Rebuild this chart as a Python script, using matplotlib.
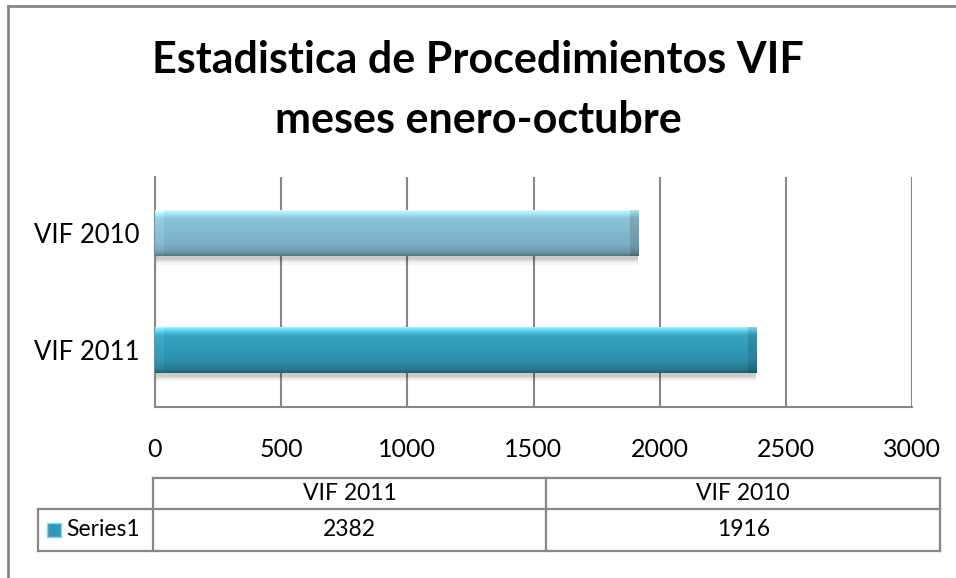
"""Estadistica de Procedimientos VIF - barras horizontales con tabla de datos."""
import numpy as np
import matplotlib.pyplot as plt
from matplotlib.colors import to_rgb
from matplotlib.patches import Rectangle

categories = ["VIF 2011", "VIF 2010"]
values = [2382, 1916]
series_name = "Series1"
x_ticks = [0, 500, 1000, 1500, 2000, 2500, 3000]
title_lines = ["Estadistica de Procedimientos VIF", "meses enero-octubre"]

GRAY = "#878787"
# perfiles de color (arriba -> abajo) para simular el bisel de Excel
bar_styles = [
    [(0.0, "#9af0ff"), (0.07, "#5fd0ea"), (0.18, "#36a5c2"), (0.75, "#2c8eaa"),
     (0.92, "#277a90"), (1.0, "#1e5f70")],
    [(0.0, "#d8fbff"), (0.07, "#a6e6f5"), (0.18, "#8ac3d8"), (0.75, "#7bafc3"),
     (0.92, "#6b98a9"), (1.0, "#4f7482")],
]

plt.rcParams["font.family"] = ["Lato", "DejaVu Sans"]

W, H = 956, 578
fig = plt.figure(figsize=(W / 100, H / 100), dpi=100)

# capa de fondo en pixeles: borde, titulo y tabla
bg = fig.add_axes([0, 0, 1, 1])
bg.set_xlim(0, W)
bg.set_ylim(H, 0)
bg.axis("off")

bg.plot([8, 8], [6, H], color=GRAY, lw=2)
bg.plot([8, W], [6, 6], color=GRAY, lw=2)

bg.text(478, 73, title_lines[0], ha="center", va="baseline", fontsize=31, fontweight="bold")
bg.text(478, 133, title_lines[1], ha="center", va="baseline", fontsize=31, fontweight="bold")

# grafico
ax = fig.add_axes([155 / W, 1 - 407 / H, (912 - 155) / W, (407 - 177) / H])
ypos = np.arange(len(categories))
h = 0.393


def gradient(stops, length_px, n=64, end_px=9):
    t = np.linspace(0, 1, n)
    pos = [s[0] for s in stops]
    cols = np.array([to_rgb(s[1]) for s in stops])
    col = np.stack([np.interp(t, pos, cols[:, k]) for k in range(3)], axis=1)
    m = max(int(length_px), 2)
    xs = np.arange(m)
    shade = np.ones(m)
    shade[xs < end_px] = 1.06
    shade[xs >= m - end_px] = 0.88
    img = col[:, None, :] * shade[None, :, None]
    return np.clip(img, 0, 1)


# sombra suave
for off, a in [(0.035, 0.10), (0.055, 0.07), (0.075, 0.04)]:
    ax.barh(ypos - off, values, height=h, left=0, color="black", alpha=a, lw=0, zorder=2)

bars = ax.barh(ypos, values, height=h, color=[s[2][1] for s in bar_styles], lw=0, zorder=3)
px_per_unit = (912 - 155) / (x_ticks[-1] - x_ticks[0])
for bar, style in zip(bars, bar_styles):
    x0, y0 = bar.get_x(), bar.get_y()
    img = gradient(style, bar.get_width() * px_per_unit)
    im = ax.imshow(img, extent=(x0, x0 + bar.get_width(), y0, y0 + bar.get_height()),
                   origin="upper", aspect="auto", zorder=4, interpolation="nearest")
    im.set_clip_path(bar)

ax.set_xlim(x_ticks[0], x_ticks[-1])
ax.set_ylim(-0.49, 1.48)
ax.set_xticks(x_ticks)
ax.set_xticklabels([str(v) for v in x_ticks], fontsize=18)
ax.set_yticks(ypos)
ax.set_yticklabels(categories, fontsize=18.5)
ax.tick_params(length=0)
ax.tick_params(axis="x", pad=22)
ax.tick_params(axis="y", pad=11)
ax.xaxis.grid(True, color=GRAY, lw=1.5)
ax.set_axisbelow(True)
for side in ("top", "right"):
    ax.spines[side].set_visible(False)
for side in ("left", "bottom"):
    ax.spines[side].set_color(GRAY)
    ax.spines[side].set_linewidth(1.5)
ax.patch.set_alpha(0)

# tabla de datos
tx0, tx1, tkey = 153, 940, 38
ty0, ty1, ty2 = 478, 509, 551
col_w = (tx1 - tx0) / len(categories)
lw = 1.6
bg.plot([tx0, tx1], [ty0, ty0], color=GRAY, lw=lw)
bg.plot([tkey, tx1], [ty1, ty1], color=GRAY, lw=lw)
bg.plot([tkey, tx1], [ty2, ty2], color=GRAY, lw=lw)
bg.plot([tkey, tkey], [ty1, ty2], color=GRAY, lw=lw)
for i in range(len(categories) + 1):
    x = tx0 + i * col_w
    bg.plot([x, x], [ty0, ty2], color=GRAY, lw=lw)
for i, (cat, val) in enumerate(zip(categories, values)):
    cx = tx0 + (i + 0.5) * col_w
    bg.text(cx, (ty0 + ty1) / 2, cat, ha="center", va="center", fontsize=16.5)
    bg.text(cx, (ty1 + ty2) / 2, str(val), ha="center", va="center", fontsize=16.5)

key = Rectangle((47, 523), 14, 14, facecolor="#2f98b5", edgecolor="#7fd8ec", lw=1)
bg.add_patch(key)
bg.text(66, (ty1 + ty2) / 2, series_name, ha="left", va="center", fontsize=16.5)

fig.savefig("out.png", dpi=100, facecolor="white")
